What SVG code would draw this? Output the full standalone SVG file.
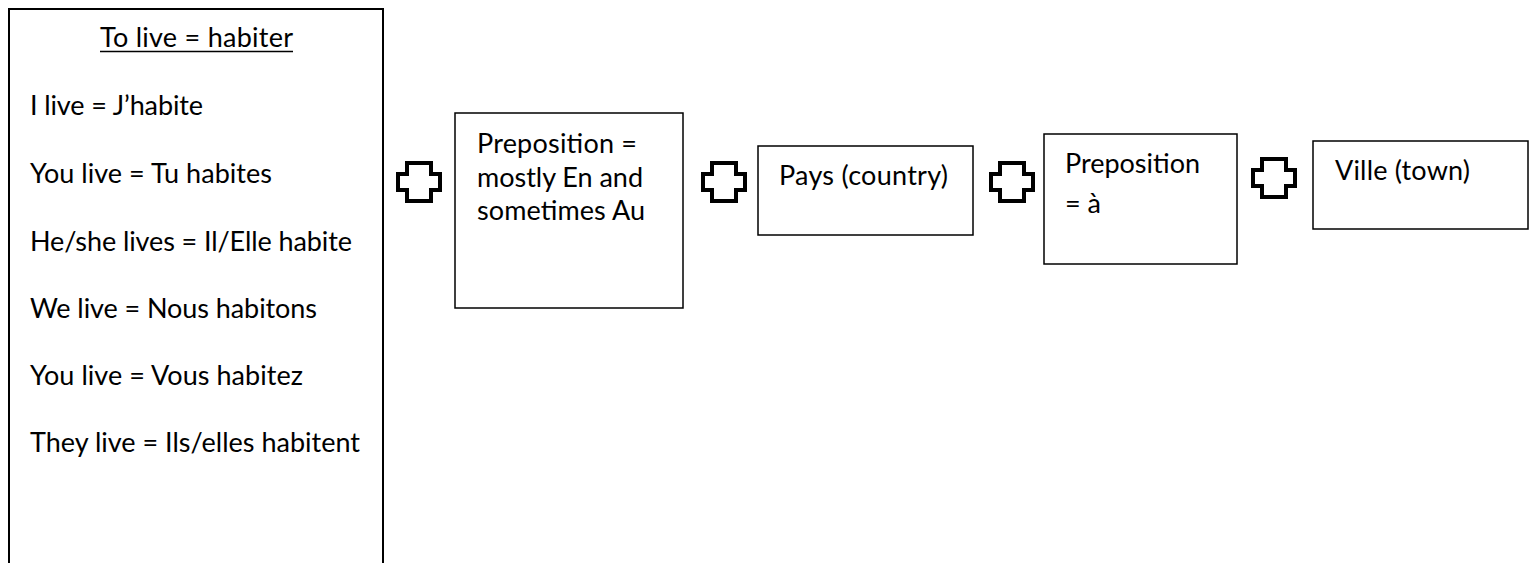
<svg xmlns="http://www.w3.org/2000/svg" xmlns:xlink="http://www.w3.org/1999/xlink" width="1534" height="563" viewBox="0 0 1534 563">
  <style>
    .bg { fill: #ffffff; }
    .big { fill: #ffffff; stroke: #000000; stroke-width: 2; }
    .box { fill: #ffffff; stroke: #000000; stroke-width: 1.5; }
    .t { font-family: Lato, "Open Sans", "Liberation Sans", sans-serif; font-size: 27px; fill: #000000; }
    .ul { stroke: #000000; stroke-width: 1.6; }
    .plus { fill: #ffffff; stroke: #000000; stroke-width: 4; stroke-linejoin: miter; }
  </style>
  <defs>
    <path id="plusShape" class="plus" d="M11,2 H35 V13 H44 V29 H35 V40 H11 V29 H2 V13 H11 Z"/>
  </defs>
  <rect class="bg" x="0" y="0" width="1534" height="563"/>

  <g id="node-conjugation">
    <rect class="big" x="9" y="9" width="374" height="580"/>
    <text class="t" x="100" y="47" textLength="193">To live = habiter</text>
    <line class="ul" x1="100" y1="51.5" x2="293" y2="51.5"/>
    <text class="t" x="30" y="115" textLength="173">I live = J’habite</text>
    <text class="t" x="30" y="183" textLength="242">You live = Tu habites</text>
    <text class="t" x="30" y="251" textLength="322">He/she lives = Il/Elle habite</text>
    <text class="t" x="30" y="318" textLength="287">We live = Nous habitons</text>
    <text class="t" x="30" y="385" textLength="273">You live = Vous habitez</text>
    <text class="t" x="30" y="452" textLength="330">They live = Ils/elles habitent</text>
  </g>

  <g id="node-preposition-country">
    <rect class="box" x="455" y="113" width="228" height="195"/>
    <text class="t" x="477" y="153" textLength="160">Preposition =</text>
    <text class="t" x="477" y="187" textLength="166">mostly En and</text>
    <text class="t" x="477" y="220" textLength="168">sometimes Au</text>
  </g>

  <g id="node-pays">
    <rect class="box" x="758" y="146" width="215" height="89"/>
    <text class="t" x="779" y="185" textLength="169">Pays (country)</text>
  </g>

  <g id="node-preposition-town">
    <rect class="box" x="1044" y="134" width="193" height="130"/>
    <text class="t" x="1065" y="173" textLength="135">Preposition</text>
    <text class="t" x="1065" y="213">= à</text>
  </g>

  <g id="node-ville">
    <rect class="box" x="1313" y="141" width="215" height="88"/>
    <text class="t" x="1335" y="180" textLength="135">Ville (town)</text>
  </g>

  <g id="connectors">
    <use xlink:href="#plusShape" href="#plusShape" x="396" y="161"/>
    <use xlink:href="#plusShape" href="#plusShape" x="701" y="161"/>
    <use xlink:href="#plusShape" href="#plusShape" x="989" y="161"/>
    <use xlink:href="#plusShape" href="#plusShape" x="1251" y="157"/>
  </g>
</svg>
